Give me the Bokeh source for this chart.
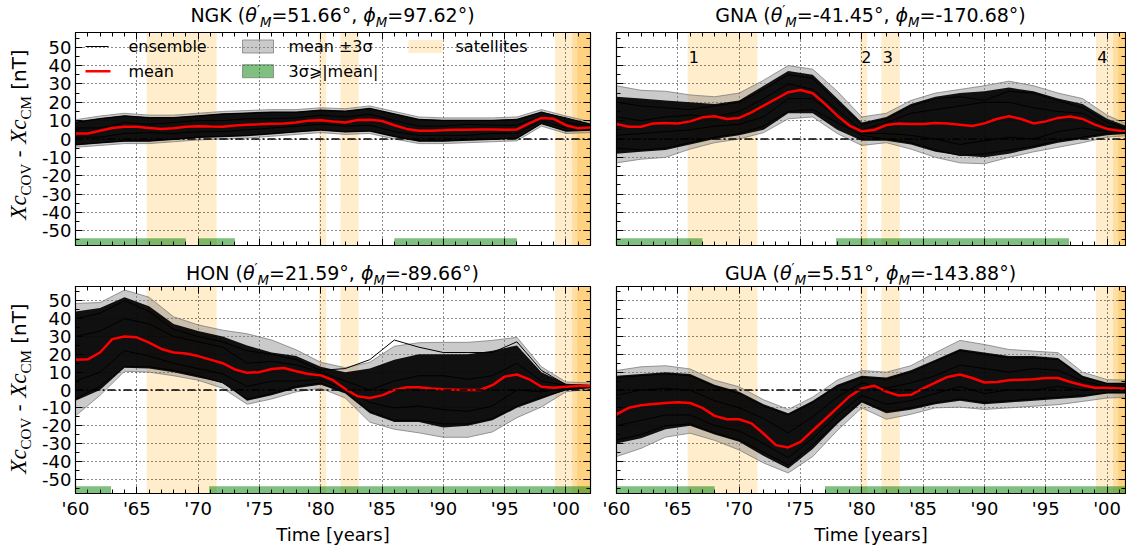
from bokeh.plotting import figure
from bokeh.models import (Range1d, LinearAxis, FixedTicker, Grid, Label, BoxAnnotation,
                          Span, Div, Spacer)
from bokeh.layouts import column, row
from bokeh.embed import file_html
from bokeh.resources import INLINE

# ---------------------------------------------------------------- data
YEARS = list(range(1960, 2003))        # knots of the mean curves
YEARS2 = list(range(1960, 2003, 2))    # knots of the spread curves

X_TICKS = [1960, 1965, 1970, 1975, 1980, 1985, 1990, 1995, 2000]
X_TICK_LABELS = ["'60", "'65", "'70", "'75", "'80", "'85", "'90", "'95", "'00"]
Y_TICKS = [-50, -40, -30, -20, -10, 0, 10, 20, 30, 40, 50]
Y_TICK_LABELS = ["-50", "-40", "-30", "-20", "-10", "0", "10", "20", "30", "40", "50"]

SAT_START = [1965.8, 1979.85, 1981.6, 1999.1, 2000.5, 2000.9]
SAT_END = [1971.5, 1980.45, 1983.1, 2002.0, 2002.0, 2002.0]
SAT_NUMBERS = ["1", "2", "3", "4"]
SAT_NUMBER_X = [1965.8, 1979.85, 1981.6, 1999.1]

STATIONS = ["NGK", "GNA", "HON", "GUA"]
THETA = ["51.66", "-41.45", "21.59", "5.51"]
PHI = ["97.62", "-170.68", "-89.66", "-143.88"]

NGK_MEAN = [3.0, 3.0, 4.5, 6.0, 6.7, 6.7, 6.0, 5.5, 5.8, 6.7,
            7.0, 6.8, 6.7, 7.3, 7.8, 8.0, 8.3, 8.5, 9.0, 10.0,
            10.2, 9.5, 9.0, 10.3, 10.5, 9.8, 7.5, 5.5, 4.5, 4.5,
            4.7, 5.0, 5.0, 5.2, 5.2, 5.0, 5.2, 8.5, 11.5, 11.0,
            7.5, 5.8, 6.3]
NGK_UP = [10.5, 12.5, 14, 13, 13, 14, 15, 15.5, 16, 16, 17, 16.5, 18, 15, 12, 11.5, 11.5, 11.5, 12, 16, 12.5, 9.5]
NGK_LO = [-4.5, -3.5, -2.5, -2.5, -1.5, -0.5, 0, 0.5, 1.5, 2.5, 3.5, 2.5, 3, 0, -2.5, -2.5, -2, -1.5, -1, 7, 3, 3.5]
NGK_ENS_HI = [9.5, 11.5, 13, 12, 12, 13, 14, 14.5, 15, 15, 16, 15.5, 17, 14, 11, 10.5, 10.5, 10.5, 11, 15, 11.5, 8.5]
NGK_ENS_LO = [-3.5, -2.5, -1.5, -1.5, -0.5, 0.5, 1, 1.5, 2.5, 3.5, 4.5, 3.5, 4, 1, -1.5, -1.5, -1, -0.5, 0, 8, 4, 4.5]
NGK_MEMBERS = [
    [9, 11, 12.5, 11.5, 11.5, 12.5, 13.5, 14, 14.5, 14.5, 15.5, 15, 16.5, 13.5, 10.5, 10, 10, 10, 10.5, 14.5, 11.5, 8],
    [-3, -2, -1, -1, 0, 1, 1.5, 2, 3, 4, 5, 4, 4.5, 1.5, -1, -1, -0.5, 0, 0.5, 8.5, 4.5, 5],
    [6, 6, 9, 8, 9, 10, 10, 11, 11, 11.5, 13, 12, 13.5, 10, 7, 7, 8, 7.5, 7.5, 12.5, 9, 7],
    [1, 1, 3, 3.5, 3, 4, 4, 5, 6, 7, 8, 7, 7.5, 4, 2, 2, 2, 3, 3, 10, 6, 5.5],
]
NGK_FLAG_START = [1960, 1970, 1986]
NGK_FLAG_END = [1969, 1973, 1996]

GNA_MEAN = [8.2, 6.7, 6.7, 8.5, 8.7, 8.5, 9.6, 11.8, 12.4, 10.9,
            11.5, 14.5, 18.2, 21.8, 25.5, 26.7, 24.9, 19.1, 12.7, 7.3,
            4.2, 4.9, 7.6, 8.5, 8.2, 8.2, 8.7, 8.5, 7.8, 7.1,
            8.5, 10.9, 12.4, 10.9, 8.5, 9.6, 11.5, 12.2, 10.9, 7.8,
            5.5, 4.5, 4.5]
GNA_UP = [29, 26.5, 26, 24, 23, 25, 32, 40, 38, 26, 12, 14, 21, 25, 27, 29, 31.5, 29, 25, 22, 13, 7]
GNA_LO = [-13, -11, -10, -5.5, -2, 0, 3.5, 11, 12, 3, -3.5, -2, -5.5, -10, -13, -13.5, -10, -7, -4.5, -2, 1, 2]
GNA_ENS_HI = [23, 22, 21, 20, 19, 21, 29, 37, 35, 22, 9, 12, 19, 23, 25, 26, 28, 26, 22, 19, 11, 6]
GNA_ENS_LO = [-8, -7, -6, -3, 0, 2, 5, 14, 14, 5, -1, -1, -3, -7, -9, -10, -8, -5, -2, 0, 2, 3]
GNA_MEMBERS = [
    [20, 18, 17, 16, 18, 20, 27, 35, 33, 20, 8, 11, 18, 22, 23, 21, 26, 25, 21, 17, 9, 5],
    [-5, -6, -5, -2, 1, 3, 7, 15, 16, 9, 2, 0, -2, -6, -9, -8, -6, -4, -1, 1, 3, 4],
    [12, 10, 12, 13, 12, 15, 22, 30, 27, 16, 5, 9, 14, 16, 18, 20, 20, 17, 15, 14, 7, 5],
    [2, 3, 4, 5, 7, 8, 12, 22, 22, 12, 3, 3, 2, 0, -3, -1, 1, 0, 4, 6, 4, 4.5],
]
GNA_FLAG_START = [1960, 1977.9]
GNA_FLAG_END = [1967, 1996.9]

HON_MEAN = [17, 17.2, 21, 28.5, 30, 29.5, 26.5, 23, 21, 20.5,
            19, 17, 15, 11.5, 9.6, 10, 11.8, 12.3, 10.5, 9,
            8.2, 5.5, 0.5, -3.5, -4.5, -3, 0, 1.5, 1.5, 0.9,
            0.4, 0.2, 0, 0, 2.7, 7.5, 8.7, 6, 1.8, 1.3,
            1.8, 2.2, 2.2]
HON_UP = [48.5, 49, 56, 52, 41, 36.5, 33.5, 31.5, 28, 22.5, 15.5, 12.5, 15.5, 24.5, 26.5, 26.7, 26.7, 27.8, 29.5, 13, 4.5, 4]
HON_LO = [-14.5, -3, 10.5, 10, 8, 5.5, 1, -8, -5, -1, 1, -4.5, -18, -22, -24, -26.5, -26.5, -23.5, -15.5, -9.5, -1, 0.5]
HON_ENS_HI = [44, 46, 52, 47, 37, 33, 30, 25, 21, 19, 13, 10, 12, 17, 20, 20, 20, 22, 25, 10, 3.5, 3]
HON_ENS_LO = [-6, 0, 12.5, 12, 10, 7, 4, -6, -3, 1, 3, -2, -13, -18, -18, -21, -20, -17, -10, -5, 0, 1]
HON_MEMBERS = [
    [40, 43, 50, 44, 34, 30, 27, 22, 20, 17, 11, 12, 17, 28, 24, 21, 21, 21, 27, 11, 3, 2.5],
    [-5, 2, 13, 13, 11, 8, 4, -5, -2, 2, 4, -1, -12, -17, -17, -19, -19, -16, -9, -4, 0, 1.5],
    [30, 33, 40, 37, 30, 27, 24, 15, 16, 14, 10, 5, 0, 5, 8, 8, 6, 8, 15, 5, 2.5, 2],
    [5, 10, 22, 19, 15, 12, 9, 2, 5, 5, 6, 0, -7, -10, -9, -11, -12, -9, 0, -1, 1, 2],
]
HON_FLAG_START = [1960, 1970.9]
HON_FLAG_END = [1962.9, 2002]

GUA_MEAN = [-13.6, -10, -8.5, -7.8, -7.3, -6.9, -7.3, -10, -14.5, -16.4,
            -16.4, -18.7, -24.5, -30.9, -32.2, -29.1, -22.7, -16.4, -10, -3.6,
            0.9, 2.4, -0.9, -3.1, -2.7, 0.9, 4.2, 7.3, 8.7, 6.7,
            4.2, 4.5, 5.5, 5.8, 6, 6.7, 6.7, 4.5, 2.7, 1.3,
            1.3, 0.9, 0.9]
GUA_UP = [10.9, 13, 13.6, 11.8, 5.5, 1.8, -5.5, -10.9, -4, 5.5, 10.9, 10, 13.6, 20.9, 27.8, 25.5, 22.7, 21.8, 20.9, 10, 5.8, 5.5]
GUA_LO = [-37.3, -32.7, -26.4, -24.2, -28.2, -33.6, -40.9, -46.5, -37.3, -22.7, -10, -16.4, -13.6, -10, -9.6, -10.9, -10, -9.1, -8.2, -6.4, -4.5, -4]
GUA_ENS_HI = [8, 9, 10, 9, 3, -1, -8, -13, -6, 3, 8, 7, 11, 17, 23, 21, 19, 19, 18, 8, 4, 4]
GUA_ENS_LO = [-30, -27, -22, -20, -25, -29, -37, -44, -33, -19, -7, -13, -11, -8, -6, -8, -7, -6, -5, -4, -2, -2]
GUA_MEMBERS = [
    [7, 8, 9, 8, 2, -2, -9, -14, -7, 2, 7, 6, 10, 16, 22, 20, 18, 18, 17, 7, 3.5, 3.5],
    [-28, -25, -20, -19, -24, -28, -35, -42, -31, -18, -6, -12, -10, -7, -5, -7, -6, -5, -4, -3, -1.5, -1.5],
    [-3, 0, 1, 0, -6, -10, -16, -24, -15, -4, 4, 1, 4, 8, 14, 12, 10, 12, 11, 5, 2, 2],
    [-20, -17, -14, -14, -20, -23, -30, -38, -27, -14, -3, -8, -6, -2, 2, -2, 0, 0, 2, 0, 0, 0],
]
GUA_FLAG_START = [1960, 1977]
GUA_FLAG_END = [1968, 2002]

PANELS = [
    (NGK_MEAN, NGK_UP, NGK_LO, NGK_ENS_HI, NGK_ENS_LO, NGK_MEMBERS, NGK_FLAG_START, NGK_FLAG_END),
    (GNA_MEAN, GNA_UP, GNA_LO, GNA_ENS_HI, GNA_ENS_LO, GNA_MEMBERS, GNA_FLAG_START, GNA_FLAG_END),
    (HON_MEAN, HON_UP, HON_LO, HON_ENS_HI, HON_ENS_LO, HON_MEMBERS, HON_FLAG_START, HON_FLAG_END),
    (GUA_MEAN, GUA_UP, GUA_LO, GUA_ENS_HI, GUA_ENS_LO, GUA_MEMBERS, GUA_FLAG_START, GUA_FLAG_END),
]

# ---------------------------------------------------------------- style / layout
SANS = "DejaVu Sans"
SERIF = "Liberation Serif"
Y0, Y1 = -58.0, 58.0
FLAG_H = 4.0
TICK_FS = 18
TITLE_FS = 19
LEG_FS = 16

YLAB_W = 36            # width of the column holding the y-axis label
LEFT_W, RIGHT_W = 564, 526
LEFT_BL, LEFT_BR = 39, 10
RIGHT_BL, RIGHT_BR = 16, 1
FRAME_H = 213
TOP_FIG_H, BOT_FIG_H = 226, 263
TOP_TITLE_H, BOT_TITLE_H = 30, 28


def make_axis(ticker, ticks, labels, show):
    ax = LinearAxis(ticker=ticker)
    ax.major_tick_in = 7
    ax.major_tick_out = 0
    ax.minor_tick_in = 4
    ax.minor_tick_out = 0
    ax.axis_line_color = "black"
    ax.major_tick_line_color = "black"
    ax.minor_tick_line_color = "black"
    if show:
        ax.major_label_overrides = {t: l for t, l in zip(ticks, labels)}
        ax.major_label_text_font = SANS
        ax.major_label_text_font_size = f"{TICK_FS}px"
        ax.major_label_text_color = "black"
        ax.major_label_standoff = 4
    else:
        ax.major_label_overrides = {t: "" for t in ticks}
        ax.major_label_text_font_size = "0px"
        ax.major_label_standoff = 0
    return ax


def make_panel(idx):
    col = idx % 2
    top = idx < 2
    left = col == 0
    mean, up, lo, ehi, elo, members, fs, fe = PANELS[idx]
    x0 = 1960.0
    x1 = 2002.0 if left else 2001.5
    W = LEFT_W if left else RIGHT_W
    H = TOP_FIG_H if top else BOT_FIG_H
    bl = LEFT_BL if left else RIGHT_BL
    br = LEFT_BR if left else RIGHT_BR
    bt = 2
    bb = H - bt - FRAME_H
    fw = W - bl - br
    fh = FRAME_H

    p = figure(width=W, height=H, x_range=Range1d(x0, x1), y_range=Range1d(Y0, Y1),
               x_axis_type=None, y_axis_type=None, output_backend="svg",
               toolbar_location=None, title_location=None,
               min_border_left=bl, min_border_right=br,
               min_border_top=bt, min_border_bottom=bb)
    p.outline_line_color = "black"
    p.outline_line_width = 1.2
    p.outline_line_alpha = 1.0
    p.background_fill_color = "white"
    p.border_fill_color = "white"

    def dx(px):   # pixel offset from the figure's left edge -> data x
        return x0 + (px - bl) * (x1 - x0) / fw

    def dy(py):   # pixels below frame top -> data y
        return Y1 - py * (Y1 - Y0) / fh

    # satellite periods
    for s, e in zip(SAT_START, SAT_END):
        p.add_layout(BoxAnnotation(left=s, right=e, fill_color="orange", fill_alpha=0.2,
                                   line_color=None, level="underlay"))

    xt = FixedTicker(ticks=X_TICKS, minor_ticks=YEARS)
    yt = FixedTicker(ticks=Y_TICKS, minor_ticks=list(range(-55, 60, 5)))
    p.add_layout(Grid(dimension=0, ticker=xt, grid_line_color="black", grid_line_dash="1 3",
                      grid_line_width=1, grid_line_alpha=0.9))
    p.add_layout(Grid(dimension=1, ticker=yt, grid_line_color="black", grid_line_dash="1 3",
                      grid_line_width=1, grid_line_alpha=0.9))

    bottom_ax = make_axis(xt, X_TICKS, X_TICK_LABELS, not top)
    if not top:
        bottom_ax.axis_label = "Time [years]"
        bottom_ax.axis_label_text_font = SANS
        bottom_ax.axis_label_text_font_size = f"{TICK_FS}px"
        bottom_ax.axis_label_text_font_style = "normal"
        bottom_ax.axis_label_text_color = "black"
        bottom_ax.axis_label_standoff = 2
    p.add_layout(bottom_ax, "below")
    p.add_layout(make_axis(xt, X_TICKS, X_TICK_LABELS, False), "above")
    p.add_layout(make_axis(yt, Y_TICKS, Y_TICK_LABELS, left), "left")
    p.add_layout(make_axis(yt, Y_TICKS, Y_TICK_LABELS, False), "right")

    # mean +/- 3 sigma
    p.varea(x=YEARS2, y1=lo, y2=up, fill_color="gray", fill_alpha=0.42)
    p.line(YEARS2, up, line_color="gray", line_alpha=0.8, line_width=1)
    p.line(YEARS2, lo, line_color="gray", line_alpha=0.8, line_width=1)

    # ensemble
    p.varea(x=YEARS2, y1=elo, y2=ehi, fill_color="black", fill_alpha=0.92)
    p.multi_line(xs=[YEARS2] * len(members), ys=members, line_color="black", line_width=1)

    # flags 3 sigma >= |mean|
    p.quad(left=fs, right=fe, bottom=Y0, top=Y0 + FLAG_H, fill_color="green",
           fill_alpha=0.5, line_color=None)

    p.add_layout(Span(location=0, dimension="width", line_color="black", line_width=1.5,
                      line_dash="8 3 2 3", level="glyph"))

    p.line(YEARS, mean, line_color="red", line_width=2.5)

    # legend (first panel only); pixel positions measured on the full page
    if idx == 0:
        r1, r2 = 14, 38.7

        def lx(px):
            return dx(px - YLAB_W)

        p.line([lx(85), lx(108)], [dy(r1), dy(r1)], line_color="black", line_width=1)
        p.line([lx(85), lx(110)], [dy(r2), dy(r2)], line_color="red", line_width=2.5)
        p.quad(left=[lx(242)], right=[lx(273)], bottom=[dy(r1 + 6.5)], top=[dy(r1 - 6.5)],
               fill_color="gray", fill_alpha=0.42, line_color="gray", line_alpha=0.8)
        p.quad(left=[lx(242)], right=[lx(273)], bottom=[dy(r2 + 6.5)], top=[dy(r2 - 6.5)],
               fill_color="green", fill_alpha=0.5, line_color="gray", line_alpha=0.8)
        p.quad(left=[lx(408)], right=[lx(442)], bottom=[dy(r1 + 6.5)], top=[dy(r1 - 6.5)],
               fill_color="orange", fill_alpha=0.2, line_color=None)
        for t, px, py in [("ensemble", 128, r1), ("mean", 128, r2), ("mean ±3σ", 288, r1),
                          ("3σ⩾|mean|", 288, r2), ("satellites", 455, r1)]:
            p.add_layout(Label(x=lx(px), y=dy(py), text=t, text_font=SANS,
                               text_font_size=f"{LEG_FS}px", text_color="black",
                               text_align="left", text_baseline="middle"))

    # satellite numbers (GNA panel)
    if idx == 1:
        for t, sx in zip(SAT_NUMBERS, SAT_NUMBER_X):
            p.add_layout(Label(x=sx + 0.1, y=dy(24), text=t, text_font=SANS,
                               text_font_size=f"{LEG_FS}px", text_color="black",
                               text_align="left", text_baseline="middle"))
    return p


def title_div(idx, width, height, pad_top):
    sub = 'style="font-size:70%;font-style:italic;"'
    html = (
        f'<div style="width:{width}px;height:{height}px;box-sizing:border-box;'
        f'padding-top:{pad_top}px;text-align:center;white-space:nowrap;'
        f'font-family:\'{SANS}\';font-size:{TITLE_FS}px;line-height:1;color:black;">'
        f'{STATIONS[idx]} (<i>θ</i><sup style="font-size:70%;">′</sup><sub {sub}>M</sub>'
        f'={THETA[idx]}°, <i>ϕ</i><sub {sub}>M</sub>={PHI[idx]}°)</div>'
    )
    return Div(text=html, width=width, height=height, margin=0)


def ylabel_div(height, center_y):
    box_w = FRAME_H
    box_h = 38
    ty = center_y + box_w / 2.0
    serif_i = f"font-family:'{SERIF}';font-style:italic;font-size:23px;"
    serif_s = f"font-family:'{SERIF}';font-size:15px;"
    html = (
        f'<div style="position:relative;width:{YLAB_W}px;height:{height}px;overflow:visible;">'
        f'<div style="position:absolute;left:0;top:0;width:{box_w}px;height:{box_h}px;'
        f'line-height:{box_h}px;text-align:center;white-space:nowrap;'
        f'transform-origin:0 0;transform:translate(0px,{ty}px) rotate(-90deg);'
        f'font-family:\'{SANS}\';font-size:20px;color:black;">'
        f'<span style="{serif_i}">Xc</span><sub style="{serif_s}">COV</sub> - '
        f'<span style="{serif_i}">Xc</span><sub style="{serif_s}">CM</sub> [nT]'
        f'</div></div>'
    )
    return Div(text=html, width=YLAB_W, height=height, margin=0)


figs = [make_panel(i) for i in range(4)]

top_titles = row(Spacer(width=YLAB_W + LEFT_BL, height=TOP_TITLE_H, margin=0),
                 title_div(0, LEFT_W - LEFT_BL - LEFT_BR, TOP_TITLE_H, 4),
                 Spacer(width=LEFT_BR + RIGHT_BL, height=TOP_TITLE_H, margin=0),
                 title_div(1, RIGHT_W - RIGHT_BL - RIGHT_BR, TOP_TITLE_H, 4),
                 Spacer(width=RIGHT_BR, height=TOP_TITLE_H, margin=0))
bot_titles = row(Spacer(width=YLAB_W + LEFT_BL, height=BOT_TITLE_H, margin=0),
                 title_div(2, LEFT_W - LEFT_BL - LEFT_BR, BOT_TITLE_H, 6),
                 Spacer(width=LEFT_BR + RIGHT_BL, height=BOT_TITLE_H, margin=0),
                 title_div(3, RIGHT_W - RIGHT_BL - RIGHT_BR, BOT_TITLE_H, 6),
                 Spacer(width=RIGHT_BR, height=BOT_TITLE_H, margin=0))

top_row = row(ylabel_div(TOP_FIG_H, 2 + FRAME_H / 2.0 - 4), figs[0], figs[1])
bot_row = row(ylabel_div(BOT_FIG_H, 2 + FRAME_H / 2.0 - 4), figs[2], figs[3])

layout = column(top_titles, top_row, bot_titles, bot_row)
open("out.html", "w").write(file_html(layout, INLINE))
